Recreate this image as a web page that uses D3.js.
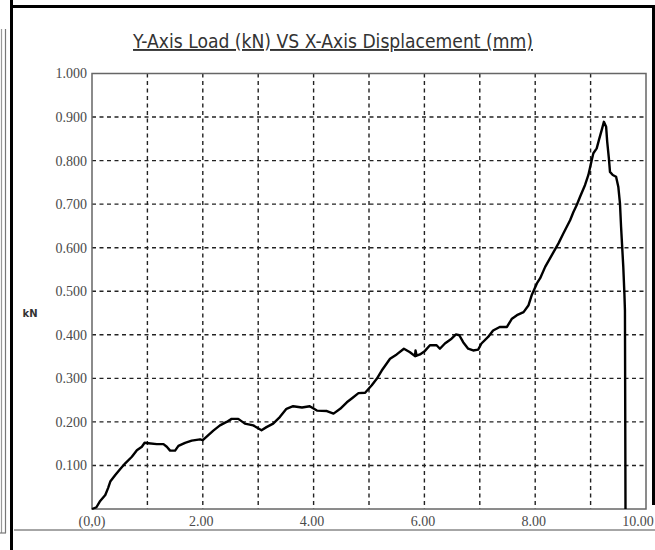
<!DOCTYPE html>
<html>
<head>
<meta charset="utf-8">
<script src="https://cdn.jsdelivr.net/npm/d3@7"></script>
<style>
  html, body { margin: 0; padding: 0; background: #fff; }
  svg { display: block; }
</style>
</head>
<body>
<svg id="chart" width="655" height="550"></svg>
<script>
// Load-displacement record of the test
const displacement = [
  0.00, 0.08, 0.14, 0.24, 0.29, 0.33, 0.42, 0.51, 0.60, 0.72, 0.81, 0.90, 0.95, 1.02,
  1.17, 1.29, 1.35, 1.41, 1.50, 1.56, 1.68, 1.80, 1.95, 2.00, 2.07, 2.19, 2.31, 2.43,
  2.52, 2.64, 2.76, 2.91, 3.06, 3.15, 3.27, 3.39, 3.51, 3.63, 3.79, 3.93, 4.06, 4.24,
  4.36, 4.48, 4.60, 4.70, 4.81, 4.93, 5.05, 5.14, 5.23, 5.38, 5.50, 5.63, 5.74, 5.83,
  5.84, 5.86, 5.92, 6.01, 6.10, 6.22, 6.28, 6.37, 6.49, 6.57, 6.63, 6.70, 6.79, 6.88,
  6.97, 7.03, 7.15, 7.24, 7.36, 7.49, 7.58, 7.67, 7.79, 7.88, 7.94, 8.03, 8.09, 8.18,
  8.30, 8.42, 8.51, 8.63, 8.69, 8.75, 8.81, 8.90, 8.96, 9.02, 9.05, 9.11, 9.15, 9.20,
  9.24, 9.28, 9.30, 9.33, 9.35, 9.40, 9.46, 9.50, 9.53, 9.55, 9.57, 9.59, 9.61, 9.62,
  9.63
];
const load = [
  0.000, 0.004, 0.017, 0.032, 0.048, 0.063, 0.078, 0.092, 0.105, 0.120, 0.135, 0.143, 0.152, 0.151,
  0.149, 0.149, 0.143, 0.134, 0.134, 0.145, 0.152, 0.157, 0.160, 0.158, 0.166, 0.180, 0.192, 0.200,
  0.207, 0.207, 0.196, 0.192, 0.181, 0.188, 0.196, 0.211, 0.230, 0.236, 0.233, 0.236, 0.226, 0.225,
  0.219, 0.230, 0.245, 0.255, 0.266, 0.267, 0.284, 0.299, 0.318, 0.345, 0.355, 0.368, 0.360, 0.351,
  0.364, 0.352, 0.355, 0.363, 0.376, 0.376, 0.368, 0.380, 0.391, 0.401, 0.399, 0.383, 0.368, 0.364,
  0.366, 0.380, 0.395, 0.410, 0.418, 0.418, 0.437, 0.445, 0.452, 0.468, 0.492, 0.518, 0.530, 0.556,
  0.583, 0.610, 0.633, 0.663, 0.682, 0.698, 0.717, 0.744, 0.767, 0.801, 0.817, 0.828, 0.847, 0.870,
  0.889, 0.878, 0.843, 0.805, 0.774, 0.767, 0.763, 0.740, 0.702, 0.648, 0.602, 0.556, 0.495, 0.456,
  0.000
];

const yTicks = [0.1, 0.2, 0.3, 0.4, 0.5, 0.6, 0.7, 0.8, 0.9, 1.0];
const xTicks = [0, 2, 4, 6, 8, 10];
const xTickLabels = ["(0,0)", "2.00", "4.00", "6.00", "8.00", "10.00"];
const xGrid = [1, 2, 3, 4, 5, 6, 7, 8, 9];
const yGrid = [0.1, 0.2, 0.3, 0.4, 0.5, 0.6, 0.7, 0.8, 0.9];
const titleText = "Y-Axis Load (kN) VS X-Axis Displacement (mm)";
const yUnit = "kN";

const svg = d3.select("#chart");
const plot = { left: 92, right: 646, top: 73.5, bottom: 509 };

const x = d3.scaleLinear().domain([0, 10]).range([plot.left, plot.right]);
const y = d3.scaleLinear().domain([0, 1]).range([plot.bottom, plot.top]);

// Window frame around the chart panel
const frame = svg.append("g");
frame.append("line").attr("x1", 11.5).attr("x2", 11.5).attr("y1", 0).attr("y2", 550)
  .attr("stroke", "#000").attr("stroke-width", 3);
frame.append("line").attr("x1", 10).attr("x2", 655).attr("y1", 6.5).attr("y2", 6.5)
  .attr("stroke", "#000").attr("stroke-width", 3);
frame.append("line").attr("x1", 653.5).attr("x2", 653.5).attr("y1", 5).attr("y2", 505)
  .attr("stroke", "#000").attr("stroke-width", 3);
frame.append("line").attr("x1", 1.5).attr("x2", 1.5).attr("y1", 29).attr("y2", 533)
  .attr("stroke", "#999").attr("stroke-width", 1.2);
frame.append("line").attr("x1", 5.5).attr("x2", 5.5).attr("y1", 29).attr("y2", 533)
  .attr("stroke", "#777").attr("stroke-width", 1.2);
frame.append("line").attr("x1", 0).attr("x2", 6).attr("y1", 533).attr("y2", 533)
  .attr("stroke", "#777").attr("stroke-width", 1.2);
frame.append("line").attr("x1", 14).attr("x2", 655).attr("y1", 530).attr("y2", 530)
  .attr("stroke", "#888").attr("stroke-width", 1.5);

// Title, underlined
const title = svg.append("text")
  .attr("x", 333).attr("y", 48)
  .attr("text-anchor", "middle")
  .attr("font-family", "'DejaVu Sans Condensed', 'DejaVu Sans', sans-serif")
  .attr("font-size", 16)
  .attr("fill", "#333")
  .attr("text-decoration", "underline")
  .text(titleText);
// fit the title to its box width
const tw = title.node().getComputedTextLength();
title.attr("font-size", 16 * 400 / tw);

// Grid lines
const grid = svg.append("g")
  .attr("stroke", "#222").attr("stroke-width", 1.4).attr("stroke-dasharray", "4,3.5");
grid.selectAll("line.v").data(xGrid).join("line").attr("class", "v")
  .attr("x1", d => x(d)).attr("x2", d => x(d))
  .attr("y1", plot.top).attr("y2", plot.bottom);
grid.selectAll("line.h").data(yGrid).join("line").attr("class", "h")
  .attr("x1", plot.left).attr("x2", plot.right)
  .attr("y1", d => y(d)).attr("y2", d => y(d));

// Plot border
svg.append("rect")
  .attr("x", plot.left).attr("y", plot.top)
  .attr("width", plot.right - plot.left).attr("height", plot.bottom - plot.top)
  .attr("fill", "none").attr("stroke", "#666").attr("stroke-width", 1.5);

// Y axis labels
const yAxis = d3.axisLeft(y).tickValues(yTicks).tickSize(0).tickPadding(4)
  .tickFormat(d3.format(".3f"));
const gy = svg.append("g").attr("transform", `translate(${plot.left - 1},0)`).call(yAxis);
gy.select(".domain").remove();
gy.selectAll("text")
  .attr("font-family", "'Liberation Serif', 'Times New Roman', serif")
  .attr("font-size", 14).attr("fill", "#4a4a4a");

// X axis labels
const xAxis = d3.axisBottom(x).tickValues(xTicks).tickSize(0).tickPadding(0)
  .tickFormat((d, i) => xTickLabels[i]);
const gx = svg.append("g").attr("transform", `translate(-2,${plot.bottom})`).call(xAxis);
gx.select(".domain").remove();
gx.selectAll("text")
  .attr("dy", 17)
  .attr("font-family", "'Liberation Serif', 'Times New Roman', serif")
  .attr("font-size", 14).attr("fill", "#4a4a4a");
gx.selectAll(".tick").filter(d => d === 0).attr("transform", `translate(${x(0) + 2},0)`);
gx.selectAll(".tick").filter(d => d === 10).attr("transform", `translate(${x(10) - 6},0)`);

// Unit label
svg.append("text")
  .attr("x", 30).attr("y", 317)
  .attr("text-anchor", "middle")
  .attr("font-family", "'DejaVu Sans', sans-serif")
  .attr("font-weight", "bold")
  .attr("font-size", 10)
  .attr("fill", "#333")
  .text(yUnit);

// Load curve
const pts = displacement.map((d, i) => [d, load[i]]);
const line = d3.line().x(d => x(d[0])).y(d => y(d[1])).curve(d3.curveLinear);
svg.append("path")
  .datum(pts)
  .attr("d", line)
  .attr("fill", "none")
  .attr("stroke", "#000")
  .attr("stroke-width", 2.4)
  .attr("stroke-linejoin", "round");
</script>
</body>
</html>
